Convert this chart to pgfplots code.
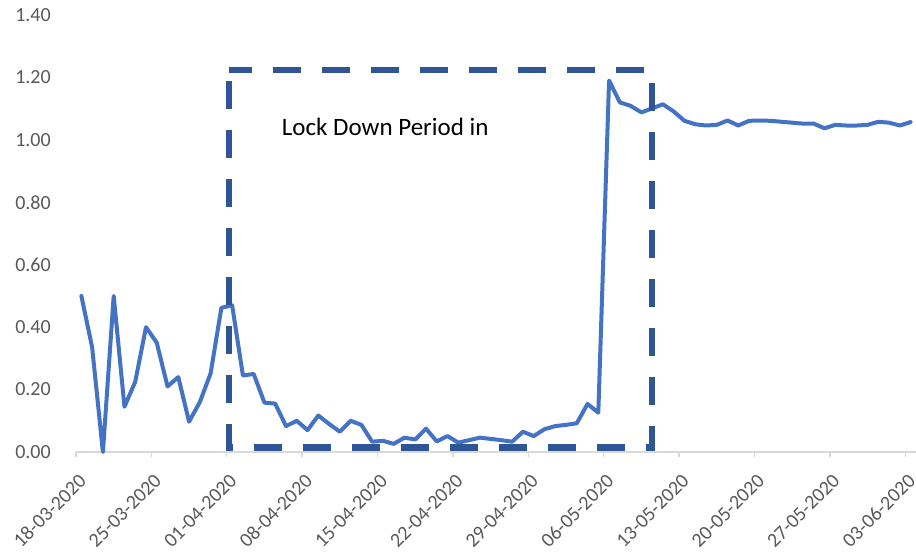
\documentclass[border=0pt]{standalone}
\usepackage{fontspec}
\setmainfont{Carlito}
\usepackage{pgfplots}
\pgfplotsset{compat=1.18}
\usepackage{pgfplotstable}
\definecolor{lineblue}{HTML}{4472C4}
\definecolor{boxblue}{HTML}{2F5597}
\definecolor{axgray}{HTML}{D9D9D9}
\definecolor{txtgray}{HTML}{595959}
\pgfplotstableread{
i v
0 0.50
1 0.335
2 0.00
3 0.50
4 0.145
5 0.225
6 0.40
7 0.35
8 0.21
9 0.24
10 0.097
11 0.16
12 0.252
13 0.462
14 0.47
15 0.245
16 0.25
17 0.158
18 0.155
19 0.083
20 0.10
21 0.07
22 0.117
23 0.09
24 0.065
25 0.10
26 0.087
27 0.033
28 0.036
29 0.026
30 0.046
31 0.04
32 0.075
33 0.034
34 0.051
35 0.03
36 0.038
37 0.046
38 0.042
39 0.038
40 0.033
41 0.065
42 0.051
43 0.073
44 0.083
45 0.087
46 0.092
47 0.154
48 0.126
49 1.19
50 1.12
51 1.109
52 1.088
53 1.101
54 1.114
55 1.091
56 1.061
57 1.05
58 1.046
59 1.048
60 1.062
61 1.046
62 1.061
63 1.062
64 1.061
65 1.058
66 1.055
67 1.052
68 1.052
69 1.037
70 1.048
71 1.046
72 1.046
73 1.048
74 1.058
75 1.055
76 1.046
77 1.057
}\datatable
\begin{document}
\begin{tikzpicture}
\useasboundingbox (-57pt,-74.25pt) rectangle (630pt,339pt);
\begin{axis}[
  at={(0,0)}, anchor=south west,
  scale only axis,
  width=630pt, height=327.75pt,
  xmin=-0.5, xmax=77.5, ymin=0, ymax=1.4,
  enlargelimits=false,
  clip=false,
  axis x line*=bottom,
  axis y line*=left,
  x axis line style={-, draw=axgray, line width=1pt},
  y axis line style={draw=none},
  xtick={-0.5,6.5,13.5,20.5,27.5,34.5,41.5,48.5,55.5,62.5,69.5,76.5},
  xticklabels={18-03-2020,25-03-2020,01-04-2020,08-04-2020,15-04-2020,22-04-2020,29-04-2020,06-05-2020,13-05-2020,20-05-2020,27-05-2020,03-06-2020},
  ytick={0,0.2,0.4,0.6,0.8,1.0,1.2,1.4},
  yticklabel={\pgfmathprintnumber[fixed,fixed zerofill,precision=2]{\tick}},
  /pgf/number format/assume math mode=true,
  tick align=outside,
  major tick length=3.75pt,
  xtick style={draw=axgray, line width=1pt},
  ytick style={draw=none},
  tick label style={font=\fontsize{15}{18}\selectfont, text=txtgray},
  yticklabel style={inner sep=0pt, xshift=-15pt},
  xticklabel style={inner sep=0pt, xshift=5pt, yshift=-15.4pt, rotate=45, anchor=east},
]
\addplot[color=lineblue, line width=3pt, line join=round, line cap=round] table[x=i, y=v] {\datatable};
\draw[boxblue, line width=5pt, dash pattern=on 21pt off 15.75pt, dash phase=28.5pt]
  (axis cs:13.7,1.224) rectangle (axis cs:53.0,0.014);
\node[anchor=base west, inner sep=0pt, font=\fontsize{18.75}{22}\selectfont, text=black]
  at (axis cs:18.6,1.0125) {Lock Down Period in};
\end{axis}
\end{tikzpicture}
\end{document}
